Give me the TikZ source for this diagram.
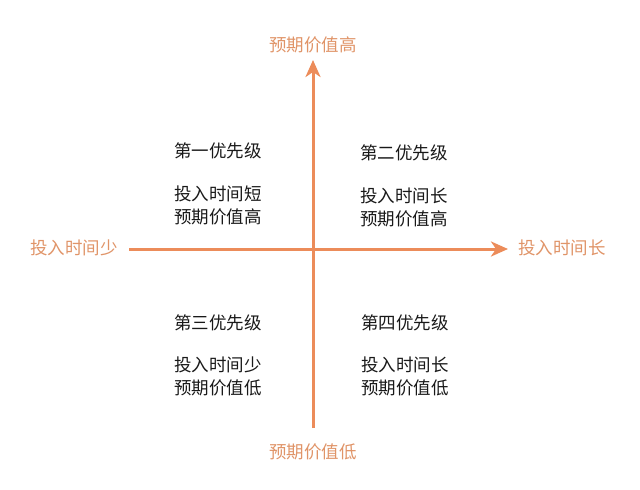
\documentclass[tikz,border=0pt]{standalone}
\usepackage{fontspec}
\newfontfamily\cjk{Noto Sans CJK SC}
\usetikzlibrary{arrows.meta}
\definecolor{axisorange}{RGB}{236,140,90}
\definecolor{labelorange}{RGB}{224,148,104}
\definecolor{textdark}{RGB}{25,25,25}

\begin{document}
\begin{tikzpicture}[x=1pt, y=-1pt,
    axis/.style={draw=axisorange, line width=3pt, -{Stealth[length=17pt, width=15pt, inset=5pt]}},
    axislabel/.style={text=labelorange, font=\cjk\fontsize{17.5}{21}\selectfont},
    quadtext/.style={text=textdark, font=\cjk\fontsize{17.5}{23}\selectfont, align=left}]
        \useasboundingbox (0, 0) rectangle (640, 490);

        % axes
        \coordinate (yLow) at (313, 428);
        \coordinate (yHigh) at (313, 60);
        \coordinate (xLow) at (129, 249);
        \coordinate (xHigh) at (508, 249);
        \draw[axis] (yLow) -- (yHigh);
        \draw[axis] (xLow) -- (xHigh);

        \node[axislabel] (valueHigh) at (313, 45) {预期价值高};
        \node[axislabel] (valueLow) at (313, 452) {预期价值低};
        \node[axislabel] (timeShort) at (74, 248) {投入时间少};
        \node[axislabel] (timeLong) at (562, 248) {投入时间长};

        % quadrants
        \node[quadtext] (firstTitle) at (218, 151) {第一优先级};
        \node[quadtext] (firstText) at (218, 205) {投入时间短\\预期价值高};

        \node[quadtext] (secondTitle) at (404, 153) {第二优先级};
        \node[quadtext] (secondText) at (404, 207) {投入时间长\\预期价值高};

        \node[quadtext] (thirdTitle) at (218, 323) {第三优先级};
        \node[quadtext] (thirdText) at (218, 376) {投入时间少\\预期价值低};

        \node[quadtext] (fourthTitle) at (405, 323) {第四优先级};
        \node[quadtext] (fourthText) at (405, 376) {投入时间长\\预期价值低};
\end{tikzpicture}
\end{document}
